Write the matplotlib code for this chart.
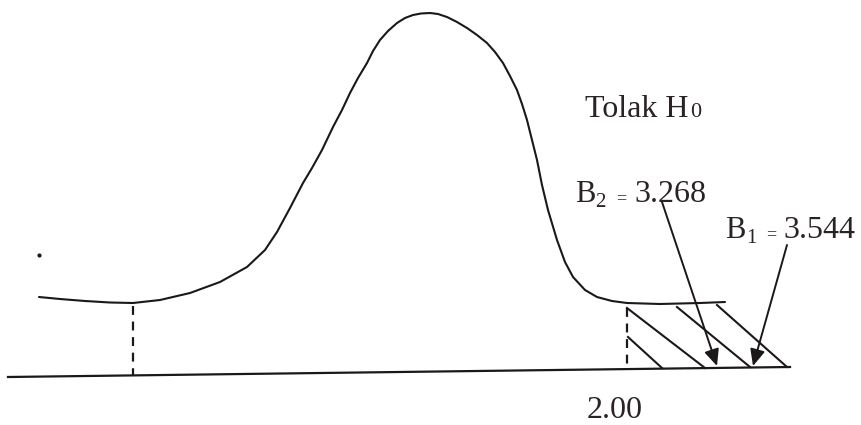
import matplotlib
matplotlib.use("Agg")
import matplotlib.pyplot as plt

# ---- data (in picture units) ----
curve_x = [39, 60, 85, 110, 133, 160, 190, 220, 247, 265, 277, 290, 303, 312, 322,
           333, 342, 350, 358, 367, 373, 380, 388, 397, 405, 413, 421, 430, 438,
           447, 457, 467, 477, 487, 495, 503, 510, 517, 522, 527, 532, 537, 542,
           548, 557, 565, 573, 585, 597, 612, 627, 660, 700, 725]
curve_y = [297, 299, 301, 302.5, 303, 300, 293, 282, 267, 250, 232, 208, 183, 168, 150,
           127, 110, 93, 78, 63, 51, 40, 31, 23, 18, 15, 13.5, 13, 14,
           17, 22, 28, 35, 43, 52, 63, 76, 90, 104, 120, 140, 160, 185,
           210, 240, 262, 277, 290, 297, 301, 303, 304, 303, 302]

axis_x = [8, 790]
axis_y = [377, 367]

crit_x = [133, 627]
crit_top = [306, 308]
crit_bottom = [376, 368]

hatch_x0 = [627, 628, 677, 717]
hatch_y0 = [308, 337, 307, 305]
hatch_x1 = [705, 662, 750, 787]
hatch_y1 = [368, 368, 367, 367]

arrow_labels = ["B2", "B1"]
arrow_start_x = [662, 787]
arrow_start_y = [202, 245]
arrow_end_x = [717, 753]
arrow_end_y = [366, 366]

region_label = "Tolak H"
region_sub = "0"
b_values = ["3.268", "3.544"]
b_subs = ["2", "1"]
tick_label = "2.00"

# ---- drawing ----
INK = "#1c1718"
TXT = "#2a2224"
SERIF = ["Liberation Serif", "DejaVu Serif"]

fig = plt.figure(figsize=(8.61, 4.25), dpi=100)
ax = fig.add_axes([0, 0, 1, 1])
ax.set_xlim(0, 861)
ax.set_ylim(425, 0)
ax.axis("off")

ax.plot(curve_x, curve_y, color=INK, lw=1.5, solid_capstyle="round", solid_joinstyle="round")
ax.plot(axis_x, axis_y, color=INK, lw=1.6)

for x, t, b in zip(crit_x, crit_top, crit_bottom):
    ax.plot([x, x], [t, b], color=INK, lw=1.6, linestyle=(0, (4, 3)))

for x0, y0, x1, y1 in zip(hatch_x0, hatch_y0, hatch_x1, hatch_y1):
    ax.plot([x0, x1], [y0, y1], color=INK, lw=1.5)

for sx, sy, ex, ey in zip(arrow_start_x, arrow_start_y, arrow_end_x, arrow_end_y):
    ax.annotate("", xy=(ex, ey), xytext=(sx, sy),
                arrowprops=dict(arrowstyle="-|>,head_length=1.0,head_width=0.45",
                                color=INK, lw=1.4, shrinkA=0, shrinkB=0))

# stray dot in the scan
ax.plot([39], [255], marker="o", ms=2, color=INK)

# texts
ax.text(585, 117, region_label, fontsize=23, family=SERIF, color=TXT, va="baseline", ha="left")
ax.text(690, 117, region_sub, fontsize=16, family=SERIF, color=TXT, va="baseline", ha="left")

# B2 label
ax.text(575, 202, "B", fontsize=22, family=SERIF, color=TXT, va="baseline", ha="left")
ax.text(595, 207, b_subs[0], fontsize=15, family=SERIF, color=TXT, va="baseline", ha="left")
ax.text(616, 203, "=", fontsize=13, family=SERIF, color=TXT, va="baseline", ha="left")
ax.text(634, 202, b_values[0], fontsize=23, family=SERIF, color=TXT, va="baseline", ha="left")

# B1 label
ax.text(725, 238, "B", fontsize=22, family=SERIF, color=TXT, va="baseline", ha="left")
ax.text(746, 243, b_subs[1], fontsize=15, family=SERIF, color=TXT, va="baseline", ha="left")
ax.text(766, 239, "=", fontsize=13, family=SERIF, color=TXT, va="baseline", ha="left")
ax.text(783, 238, b_values[1], fontsize=23, family=SERIF, color=TXT, va="baseline", ha="left")

ax.text(587, 418, tick_label, fontsize=23, family=SERIF, color=TXT, va="baseline", ha="left")

fig.savefig("out.png", dpi=100)
